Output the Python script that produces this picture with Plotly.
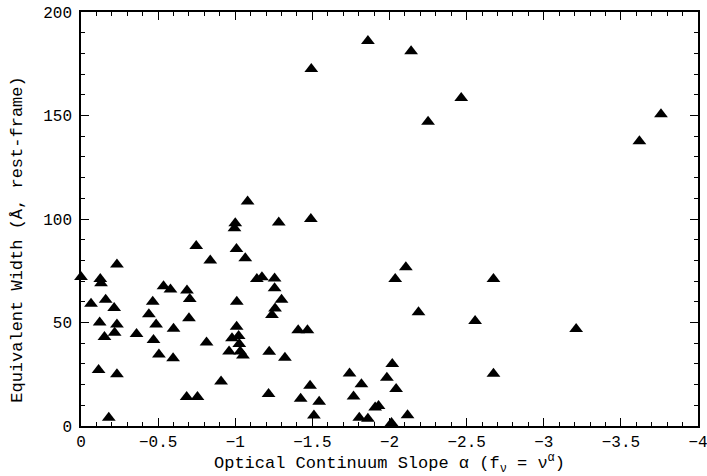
import plotly.graph_objects as go

alpha = [0.0, -0.125, -0.13, -0.233, -0.065, -0.16, -0.215, -0.121, -0.233, -0.152,
         -0.218, -0.114, -0.233, -0.18, -0.36, -0.465, -0.44, -0.487, -0.47, -0.505,
         -0.535, -0.58, -0.6, -0.597, -0.687, -0.705, -0.7, -0.685, -0.755, -0.747,
         -0.838, -0.814, -0.908, -0.96, -1.0, -0.995, -1.008, -1.065, -1.01, -1.009,
         -0.979, -1.022, -1.026, -1.032, -1.05, -1.08, -1.282, -1.49, -1.14, -1.173,
         -1.255, -1.255, -1.3, -1.258, -1.238, -1.22, -1.322, -1.216, -1.408, -1.468,
         -1.485, -1.424, -1.544, -1.51, -1.741, -1.818, -1.767, -1.804, -1.86, -1.907,
         -1.929, -2.013, -2.117, -2.018, -1.983, -2.043, -2.037, -2.106, -2.188, -2.555,
         -2.674, -2.674, -3.21, -1.493, -1.86, -2.14, -2.25, -2.465, -3.62, -3.76]
ew = [72, 71, 69, 78, 59, 61, 57, 50, 49, 43,
      45, 27, 25, 4, 44.5, 60, 54, 49, 41.5, 34.5,
      67.5, 66, 47, 32.7, 65.5, 61.3, 52, 14, 14, 87,
      80, 40.3, 21.5, 36, 98, 95.5, 85.5, 81, 60, 48,
      42.4, 43.5, 39.6, 36, 34, 108.5, 98.3, 100, 71, 71.8,
      71.3, 66.5, 61, 56.8, 53.6, 35.9, 33, 15.5, 46.2, 46.2,
      19.5, 13.2, 11.7, 5.1, 25.4, 20.2, 14.3, 4, 3.5, 8.9,
      9.7, 1.5, 5.2, 30, 23.3, 17.9, 71, 76.7, 55, 50.7,
      71, 25.3, 46.9, 172.5, 186, 181, 147, 158.5, 137.5, 150.6]

x_ticks = [0, -0.5, -1, -1.5, -2, -2.5, -3, -3.5, -4]
x_ticklabels = ["0", "\u22120.5", "\u22121", "\u22121.5", "\u22122", "\u22122.5", "\u22123", "\u22123.5", "\u22124"]
y_ticks = [0, 50, 100, 150, 200]

x_title = "Optical Continuum Slope \u03b1 (f<sub>\u03bd</sub> = \u03bd<sup>\u03b1</sup>)"
y_title = "Equivalent Width (\u00c5, rest-frame)"

FONT = "Liberation Mono, Courier New, monospace"

fig = go.Figure()
fig.add_trace(go.Scatter(
    x=alpha, y=ew, mode="markers",
    marker=dict(symbol="triangle-up", size=12, color="black", line=dict(width=0)),
    showlegend=False, cliponaxis=False,
))

axis_common = dict(
    showline=True, linecolor="black", linewidth=1.5, mirror="ticks",
    ticks="inside", ticklen=8, tickwidth=1.2, tickcolor="black",
    showgrid=False, zeroline=False, automargin=False, ticklabeloverflow="allow",
    tickfont=dict(family=FONT, size=16, color="black"),
)

fig.update_xaxes(
    range=[0, -4], tickvals=x_ticks, ticktext=x_ticklabels,
    minor=dict(dtick=0.1, ticks="inside", ticklen=4, tickwidth=1, tickcolor="black", showgrid=False),
    **axis_common,
)
fig.update_yaxes(
    range=[0, 200], tickvals=y_ticks, ticklabelstandoff=4,
    minor=dict(dtick=10, ticks="inside", ticklen=4, tickwidth=1, tickcolor="black", showgrid=False),
    **axis_common,
)

fig.add_annotation(text=x_title, xref="paper", yref="paper", x=0.5, y=-0.09,
                   xanchor="center", yanchor="middle", showarrow=False,
                   font=dict(family=FONT, size=17, color="black"))
fig.add_annotation(text=y_title, xref="paper", yref="paper", x=-0.102, y=0.45,
                   xanchor="center", yanchor="middle", showarrow=False, textangle=-90,
                   font=dict(family=FONT, size=17, color="black"))

fig.update_layout(
    width=707, height=476,
    margin=dict(l=81, r=9, t=12, b=50),
    paper_bgcolor="white", plot_bgcolor="white",
    font=dict(family=FONT, color="black"),
)

fig.write_html("out.html", config={"displayModeBar": False},
               post_script="document.body.style.margin='0';document.body.style.overflow='hidden';")
